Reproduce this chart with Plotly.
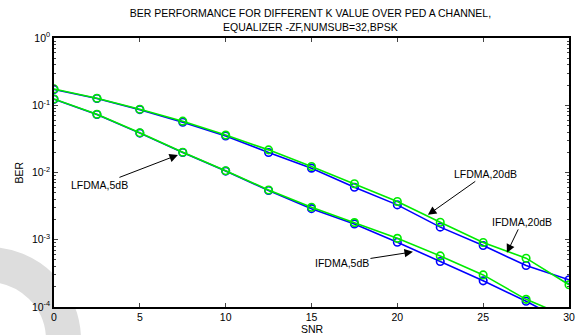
import plotly.graph_objects as go

snr = [0, 2.5, 5, 7.5, 10, 12.5, 15, 17.5, 20, 22.5, 25, 27.5, 30]

ifdma_20db = [0.172, 0.126, 0.086, 0.056, 0.035, 0.0198, 0.0116, 0.00605, 0.0033, 0.00154, 0.00082, 0.000414, 0.000254]
lfdma_20db = [0.175, 0.127, 0.087, 0.058, 0.036, 0.0217, 0.01225, 0.0068, 0.0037, 0.00182, 0.00091, 0.000532, 0.000214]
ifdma_5db = [0.123, 0.073, 0.0385, 0.0198, 0.0105, 0.0054, 0.0029, 0.00172, 0.00092, 0.000474, 0.000245, 0.000122, 0.000056]
lfdma_5db = [0.124, 0.0735, 0.039, 0.02, 0.0106, 0.0055, 0.00304, 0.0018, 0.00105, 0.000575, 0.0003, 0.00013, 0.00007]

y_tickvals = [1, 1e-1, 1e-2, 1e-3, 1e-4]
y_ticktext = ["10<sup>0</sup>", "10<sup>-1</sup>", "10<sup>-2</sup>", "10<sup>-3</sup>", "10<sup>-4</sup>"]
x_tickvals = [0, 5, 10, 15, 20, 25, 30]

BLUE = "rgb(0,0,255)"
GREEN = "rgb(0,235,0)"

fig = go.Figure()

def add(y, color, name):
    fig.add_trace(go.Scatter(
        x=snr, y=y, mode="lines+markers", name=name,
        line=dict(color=color, width=1.6),
        marker=dict(symbol="circle-open", size=7.5, color=color, line=dict(color=color, width=1.6)),
    ))

add(ifdma_20db, BLUE, "IFDMA,20dB")
add(lfdma_20db, GREEN, "LFDMA,20dB")
add(ifdma_5db, BLUE, "IFDMA,5dB")
add(lfdma_5db, GREEN, "LFDMA,5dB")

minor_vals = [m * d for d in [1e-4, 1e-3, 1e-2, 1e-1] for m in range(2, 10)]

FAM = "Liberation Sans, Arial, sans-serif"
font = dict(family=FAM, size=10.5, color="black")

fig.update_layout(
    width=577, height=335,
    margin=dict(l=54, r=8, t=38, b=28),
    paper_bgcolor="white", plot_bgcolor="white",
    showlegend=False,
    font=font,
    title=dict(
        text="BER PERFORMANCE FOR DIFFERENT K VALUE OVER PED A CHANNEL,<br>EQUALIZER -ZF,NUMSUB=32,BPSK",
        x=0.538, xanchor="center", xref="container",
        y=0.9478, yanchor="middle", yref="container",
        font=dict(family=FAM, size=10.5, color="black"),
    ),
    xaxis=dict(
        range=[0, 30], tickvals=x_tickvals, ticks="inside", ticklen=4,
        showline=True, linecolor="black", linewidth=1.5, mirror="allticks",
        showgrid=False, zeroline=False, tickfont=font, automargin=False,
    ),
    yaxis=dict(
        type="log", range=[-4, 0], tickvals=y_tickvals, ticktext=y_ticktext,
        ticks="inside", ticklen=4,
        showline=True, linecolor="black", linewidth=1.5, mirror="allticks",
        showgrid=False, zeroline=False, tickfont=font, automargin=False,
        minor=dict(tickmode="array", tickvals=minor_vals, ticks="inside", ticklen=2, showgrid=False),
    ),
    shapes=[
        dict(type="circle", xref="paper", yref="paper", layer="below",
             x0=-0.2748, x1=0.01845, y0=-0.4033, y1=0.158,
             line=dict(color="rgb(221,221,221)", width=35), fillcolor="rgba(0,0,0,0)"),
        dict(type="rect", xref="x domain", yref="y domain", layer="below",
             x0=0, x1=1, y0=0, y1=1, fillcolor="white", line=dict(width=0)),
    ],
)

# axis titles
fig.add_annotation(text="SNR", xref="paper", yref="paper", x=0.501, y=-0.0818,
                   showarrow=False, font=font, xanchor="center", yanchor="middle")
fig.add_annotation(text="BER", xref="paper", yref="paper", x=-0.0699, y=0.5,
                   showarrow=False, font=font, textangle=-90, xanchor="center", yanchor="middle")

annots = [
    ("LFDMA,5dB", 7.22, -1.738, -78, 30),
    ("LFDMA,20dB", 21.78, -2.63, 58, -41),
    ("IFDMA,20dB", 26.38, -3.195, 15, -31),
    ("IFDMA,5dB", 20.91, -3.18, -71, 11),
]
for text, x, ly, ax, ay in annots:
    fig.add_annotation(x=x, y=ly, xref="x", yref="y", text=text, showarrow=True,
                       ax=ax, ay=ay, arrowhead=2, arrowsize=1.7, arrowwidth=1,
                       arrowcolor="black", font=font, standoff=0)

fig.write_html("out.html", config={"displayModeBar": False},
               post_script="document.body.style.margin='0';document.body.style.overflow='hidden';")
